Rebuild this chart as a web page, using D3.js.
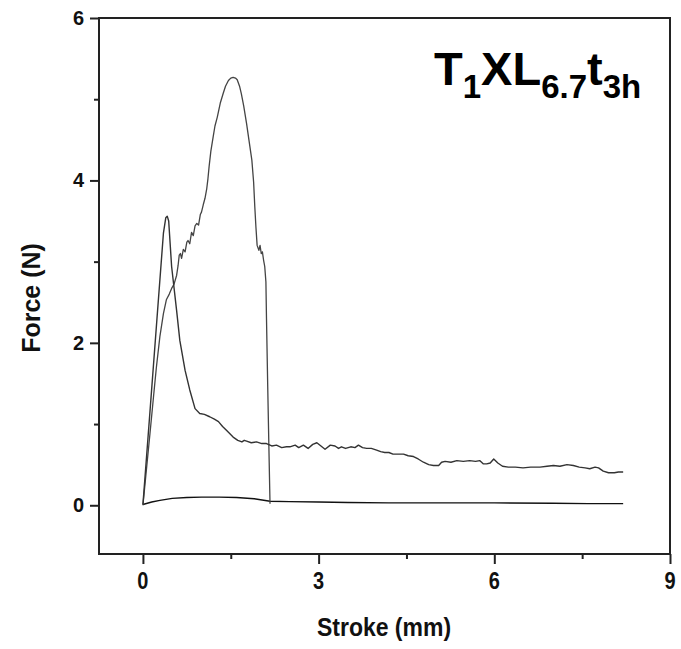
<!DOCTYPE html>
<html>
<head>
<meta charset="utf-8">
<script src="https://cdn.jsdelivr.net/npm/d3@7"></script>
<style>
  body { margin: 0; background: #fff; }
  text { font-family: "Liberation Sans", Arial, sans-serif; font-weight: bold; }
</style>
</head>
<body>
<div id="chart"></div>
<script>
// tick values
const xTicks = [0, 3, 6, 9];
const xMinor = [1.5, 4.5, 7.5];
const yTicks = [0, 2, 4, 6];
const yMinor = [1, 3, 5];

// curve with the sharp early peak and long tail, [stroke mm, force N]
const seriesA = [
  [0, 0.01], [0.12, 1.15], [0.24, 2.3], [0.35, 3.35], [0.39, 3.54], [0.415, 3.56], [0.44, 3.5],
  [0.49, 2.94], [0.575, 2.4], [0.63, 2.03], [0.72, 1.66], [0.8, 1.42], [0.89, 1.19], [0.97, 1.13],
  [1.05, 1.12], [1.14, 1.09], [1.22, 1.06], [1.29, 1.03], [1.36, 0.97], [1.43, 0.92], [1.54, 0.84],
  [1.62, 0.8], [1.69, 0.78], [1.73, 0.8], [1.77, 0.79], [1.85, 0.77], [1.94, 0.78], [2.03, 0.76],
  [2.11, 0.76], [2.2, 0.73], [2.28, 0.74], [2.37, 0.71], [2.45, 0.72], [2.51, 0.72], [2.6, 0.74],
  [2.66, 0.71], [2.74, 0.74], [2.82, 0.7], [2.9, 0.75], [2.97, 0.77], [3.04, 0.73], [3.11, 0.69],
  [3.2, 0.74], [3.28, 0.73], [3.34, 0.7], [3.39, 0.72], [3.46, 0.7], [3.55, 0.72], [3.62, 0.71],
  [3.68, 0.74], [3.75, 0.71], [3.82, 0.7], [3.9, 0.7], [3.99, 0.68], [4.06, 0.66], [4.13, 0.65],
  [4.2, 0.65], [4.27, 0.63], [4.36, 0.63], [4.45, 0.63], [4.53, 0.61], [4.62, 0.6], [4.7, 0.57],
  [4.79, 0.53], [4.88, 0.5], [4.96, 0.49], [5.05, 0.49], [5.1, 0.53], [5.16, 0.54], [5.26, 0.53],
  [5.36, 0.55], [5.47, 0.54], [5.58, 0.55], [5.68, 0.54], [5.75, 0.55], [5.81, 0.51], [5.87, 0.51],
  [5.93, 0.52], [5.99, 0.57], [6.06, 0.52], [6.14, 0.48], [6.24, 0.47], [6.36, 0.47], [6.49, 0.46],
  [6.62, 0.47], [6.78, 0.47], [6.9, 0.48], [7.01, 0.49], [7.12, 0.48], [7.24, 0.5], [7.35, 0.49],
  [7.45, 0.47], [7.55, 0.46], [7.63, 0.45], [7.72, 0.47], [7.78, 0.46], [7.86, 0.42], [7.95, 0.4],
  [8.05, 0.4], [8.12, 0.41], [8.2, 0.41]
];

// curve with the tall peak that breaks near 2.2 mm
const seriesB = [
  [0, 0], [0.06, 0.44], [0.12, 0.88], [0.18, 1.33], [0.23, 1.7], [0.29, 2.08], [0.35, 2.36],
  [0.4, 2.53], [0.45, 2.6], [0.49, 2.67], [0.53, 2.72], [0.575, 2.83], [0.6, 2.95], [0.62, 3.08],
  [0.64, 3.1], [0.66, 3.04], [0.69, 3.15], [0.72, 3.12], [0.75, 3.24], [0.77, 3.26], [0.8, 3.22],
  [0.83, 3.36], [0.86, 3.32], [0.89, 3.44], [0.92, 3.47], [0.95, 3.45], [0.98, 3.58], [1.0, 3.61],
  [1.03, 3.7], [1.06, 3.78], [1.09, 3.9], [1.11, 4.02], [1.13, 4.17], [1.16, 4.36], [1.2, 4.54],
  [1.23, 4.67], [1.27, 4.78], [1.32, 4.95], [1.37, 5.07], [1.41, 5.16], [1.46, 5.23], [1.5, 5.26],
  [1.54, 5.27], [1.58, 5.26], [1.61, 5.24], [1.65, 5.16], [1.68, 5.07], [1.72, 4.92], [1.77, 4.7],
  [1.81, 4.5], [1.86, 4.25], [1.89, 3.98], [1.91, 3.68], [1.93, 3.42], [1.95, 3.2], [1.98, 3.14],
  [2.0, 3.2], [2.02, 3.1], [2.04, 3.12], [2.06, 3.02], [2.08, 2.94], [2.1, 2.75], [2.11, 2.3],
  [2.13, 1.5], [2.15, 0.75], [2.17, 0.02]
];

// flat curve near zero
const seriesC = [
  [0, 0.01], [0.15, 0.04], [0.29, 0.06], [0.5, 0.085], [0.75, 0.095], [1.0, 0.1], [1.3, 0.1],
  [1.6, 0.095], [1.9, 0.08], [2.17, 0.05], [2.5, 0.045], [3.0, 0.04], [3.5, 0.035], [4.2, 0.03],
  [5.0, 0.03], [6.0, 0.03], [7.0, 0.025], [7.6, 0.02], [8.2, 0.02]
];

const W = 681, H = 649;
const margin = { top: 18, right: 11, bottom: 95, left: 99 };

const svg = d3.select("#chart").append("svg").attr("width", W).attr("height", H);

const x = d3.scaleLinear().domain([-0.75, 9]).range([margin.left, W - margin.right]);
const y = d3.scaleLinear().domain([-0.6, 6]).range([H - margin.bottom, margin.top]);

// axes (major + minor ticks), labels drawn separately so they can be stretched a bit
const gx = svg.append("g").attr("transform", "translate(0," + (H - margin.bottom) + ")");
gx.call(d3.axisBottom(x).tickValues(xTicks).tickSize(10).tickFormat(""));
gx.append("g").call(d3.axisBottom(x).tickValues(xMinor).tickSize(5).tickFormat(""));

const gy = svg.append("g").attr("transform", "translate(" + margin.left + ",0)");
gy.call(d3.axisLeft(y).tickValues(yTicks).tickSize(9).tickFormat(""));
gy.append("g").call(d3.axisLeft(y).tickValues(yMinor).tickSize(5).tickFormat(""));

svg.selectAll(".domain").remove();
svg.selectAll(".tick line").attr("stroke", "#222").attr("stroke-width", 2);

svg.selectAll(".xlab")
  .data(xTicks)
  .enter()
  .append("text")
  .attr("class", "xlab")
  .attr("transform", d => "translate(" + x(d) + ",589) scale(1,1.15)")
  .attr("text-anchor", "middle")
  .attr("fill", "#111")
  .style("font-size", "20px")
  .text(d => d);

svg.selectAll(".ylab")
  .data(yTicks)
  .enter()
  .append("text")
  .attr("class", "ylab")
  .attr("transform", d => "translate(84," + (y(d) + 7) + ") scale(1,1.05)")
  .attr("text-anchor", "end")
  .attr("fill", "#111")
  .style("font-size", "20px")
  .text(d => d);

// frame
svg.append("rect")
  .attr("x", margin.left).attr("y", margin.top)
  .attr("width", W - margin.left - margin.right)
  .attr("height", H - margin.top - margin.bottom)
  .attr("fill", "none").attr("stroke", "#222").attr("stroke-width", 2);

// curves
const line = d3.line().x(d => x(d[0])).y(d => y(d[1]));
svg.append("path").datum(seriesC).attr("d", line)
  .attr("fill", "none").attr("stroke", "#111").attr("stroke-width", 1.4);
svg.append("path").datum(seriesB).attr("d", line)
  .attr("fill", "none").attr("stroke", "#444").attr("stroke-width", 1.3).attr("stroke-linejoin", "round");
svg.append("path").datum(seriesA).attr("d", line)
  .attr("fill", "none").attr("stroke", "#333").attr("stroke-width", 1.4).attr("stroke-linejoin", "round");

// axis titles
svg.append("text")
  .attr("transform", "translate(384,636) scale(1,1.1)")
  .attr("text-anchor", "middle")
  .style("font-size", "23px").attr("fill", "#111")
  .text("Stroke (mm)");

svg.append("text")
  .attr("transform", "translate(40,298) rotate(-90)")
  .attr("text-anchor", "middle")
  .style("font-size", "25px").attr("fill", "#111")
  .text("Force (N)");

// sample label with subscripts
const label = svg.append("text").attr("x", 434).attr("y", 85).attr("fill", "#000").style("font-size", "47px");
label.append("tspan").text("T");
label.append("tspan").attr("dy", 13).style("font-size", "33px").text("1");
label.append("tspan").attr("dy", -13).text("XL");
label.append("tspan").attr("dy", 13).style("font-size", "33px").text("6.7");
label.append("tspan").attr("dy", -13).text("t");
label.append("tspan").attr("dy", 13).style("font-size", "33px").text("3h");
</script>
</body>
</html>
